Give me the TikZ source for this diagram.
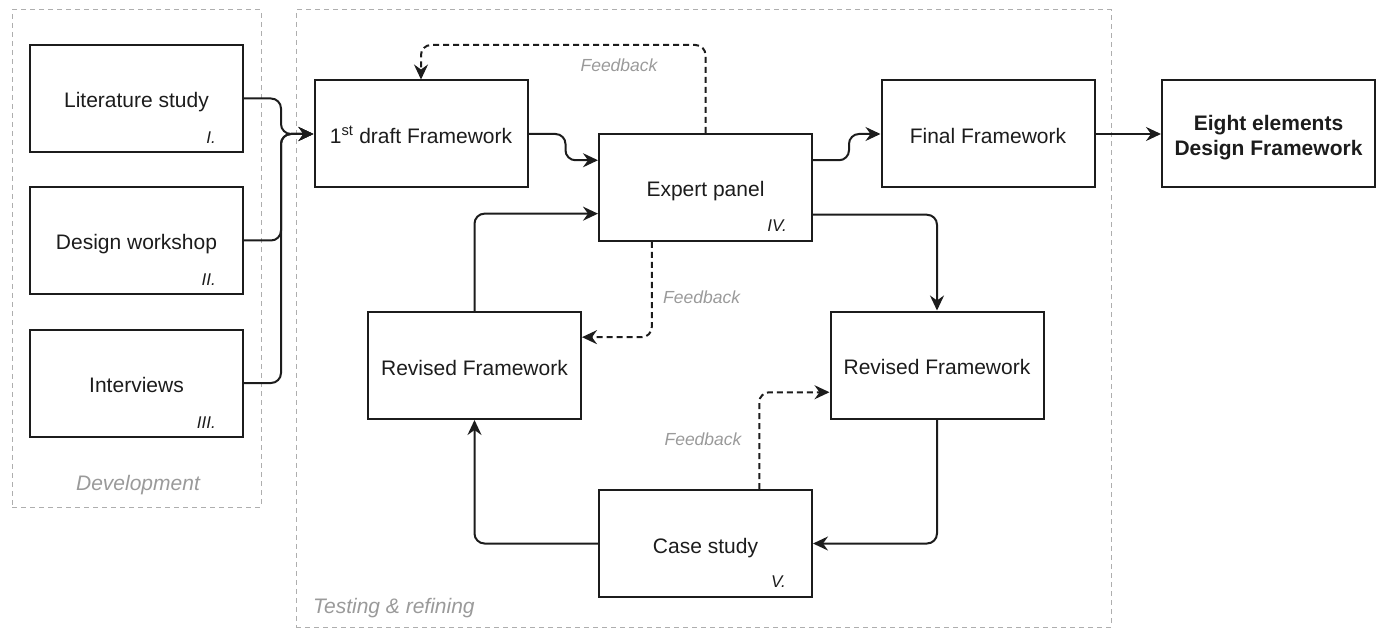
\documentclass[tikz,border=0pt]{standalone}
\usepackage{fontspec}
\setmainfont{Liberation Sans}
\usetikzlibrary{arrows.meta,calc}
\definecolor{ink}{HTML}{1C1C1C}
\definecolor{softgray}{HTML}{9A9A9A}
\definecolor{groupline}{HTML}{AEAEAE}

\begin{document}
\begin{tikzpicture}[x=1pt,y=-1pt,
  stage/.style={draw=ink, line width=2pt, minimum width=213pt, minimum height=107pt,
    inner sep=0pt, text=ink, text height=19pt, text depth=0pt,
    font=\fontsize{21}{25}\selectfont},
  boldtext/.style={inner sep=0pt, text=ink, align=center,
    font=\fontsize{21}{25}\selectfont\bfseries},
  numeral/.style={anchor=east, inner sep=0pt, text=ink, font=\fontsize{17}{20}\selectfont\itshape},
  groupbox/.style={draw=groupline, line width=1pt, dash pattern=on 5pt off 4pt, inner sep=0pt},
  grouplabel/.style={inner sep=0pt, text=softgray, font=\fontsize{21}{25}\selectfont\itshape},
  fblabel/.style={inner sep=0pt, text=softgray, font=\fontsize{17.5}{21}\selectfont\itshape},
  flow/.style={draw=ink, line width=2pt, rounded corners=10pt,
    -{Stealth[length=15pt, width=14pt, inset=5pt]}},
  feedback/.style={flow, dash pattern=on 6pt off 4pt},
]
\useasboundingbox (0,0) rectangle (1390,631);

% phase frames
\node[groupbox, minimum width=249pt, minimum height=497pt] (devframe) at (136.5,258.5) {};
\node[groupbox, minimum width=815pt, minimum height=617pt] (testframe) at (703.5,318.5) {};
\node[grouplabel] (devlabel) at (138,485) {Development};
\node[grouplabel, anchor=west] (testlabel) at (313,608) {Testing \& refining};

% development stages
\node[stage] (lit) at (136.5,98.5) {Literature study};
\node[stage] (workshop) at (136.5,240.5) {Design workshop};
\node[stage] (interviews) at (136.5,383) {Interviews};
\node[numeral] (litno) at ($(lit.south east)+(-28,-15)$) {I.};
\node[numeral] (workshopno) at ($(workshop.south east)+(-28,-15)$) {II.};
\node[numeral] (interviewsno) at ($(interviews.south east)+(-28,-15)$) {III.};

% testing and refining stages
\node[stage] (draft) at (421,134) {1\textsuperscript{st} draft Framework};
\node[stage] (expert) at (705.5,187.5) {Expert panel};
\node[stage] (final) at (988,134) {Final Framework};
\node[stage] (eight) at (1268.5,134) {};
\node[boldtext] (eighttext) at ($(eight.center)+(0,3.5)$) {Eight elements\\Design Framework};
\node[stage] (revleft) at (474.5,365.5) {Revised Framework};
\node[stage] (revright) at (937,365) {Revised Framework};
\node[stage] (case) at (705.5,543.5) {Case study};
\node[numeral] (expertno) at ($(expert.south east)+(-26,-16)$) {IV.};
\node[numeral] (caseno) at ($(case.south east)+(-27,-16)$) {V.};

% inputs merging into the first draft
\draw[flow] (lit.east) -- ++(37,0) |- (draft.west);
\draw[flow] (workshop.east) -- ++(37,0) |- (draft.west);
\draw[flow] (interviews.east) -- ++(37,0) |- (draft.west);

% main flow
\draw[flow] (draft.east) -- ++(37,0) |- ($(expert.north west)!0.25!(expert.south west)$);
\draw[flow] ($(expert.north east)!0.25!(expert.south east)$) -- ++(36,0) |- (final.west);
\draw[flow] (final.east) -- (eight.west);

% refinement loop
\draw[flow] ($(expert.north east)!0.75!(expert.south east)$) -| (revright.north);
\draw[flow] (revright.south) |- (case.east);
\draw[flow] (case.west) -| (revleft.south);
\draw[flow] (revleft.north) |- ($(expert.north west)!0.74!(expert.south west)$);

% feedback paths
\draw[feedback] (expert.north) -- ++(0,-88) -| (draft.north);
\draw[feedback] ($(expert.south west)!0.25!(expert.south east)$) |- ($(revleft.north east)!0.24!(revleft.south east)$);
\draw[feedback] ($(case.north west)!0.75!(case.north east)$) |- ($(revright.north west)!0.75!(revright.south west)$);
\node[fblabel] (fbtop) at (619,65) {Feedback};
\node[fblabel, anchor=west] (fbmid) at (663,297) {Feedback};
\node[fblabel] (fbbottom) at (703,439) {Feedback};
\end{tikzpicture}
\end{document}
